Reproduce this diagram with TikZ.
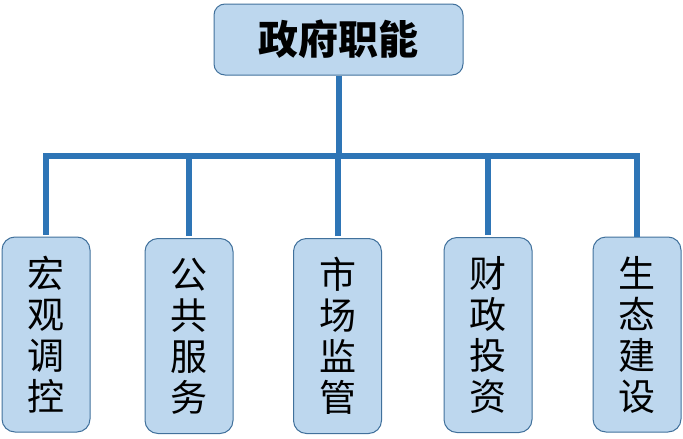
\documentclass[tikz,border=0pt]{standalone}
\usepackage{fontspec}
\setmainfont{Noto Sans CJK SC}
\definecolor{boxfill}{HTML}{BDD7EE}
\definecolor{boxline}{HTML}{41719C}
\definecolor{linkblue}{HTML}{2E75B6}

\begin{document}
\begin{tikzpicture}[x=1pt,y=-1pt,
    headbox/.style={draw=boxline,fill=boxfill,rounded corners=11pt,line width=1pt,
      minimum width=249pt,minimum height=71pt,inner sep=0pt,
      font=\fontsize{40}{44}\selectfont\bfseries},
    taskbox/.style={draw=boxline,fill=boxfill,rounded corners=13pt,line width=1pt,
      minimum width=88pt,minimum height=195pt,inner sep=0pt,align=center,
      font=\fontsize{37}{41}\selectfont},
    link/.style={draw=linkblue,line width=6pt}]
      \useasboundingbox (0,0) rectangle (683,439);

      \node[headbox] (top) at (338.5,39.5) {政府职能};

      \node[taskbox] (hongguan) at (46,334.5) {宏\\观\\调\\控};
      \node[taskbox] (gonggong) at (189,336) {公\\共\\服\\务};
      \node[taskbox] (shichang) at (337.5,336) {市\\场\\监\\管};
      \node[taskbox] (caizheng) at (488,335) {财\\政\\投\\资};
      \node[taskbox] (shengtai) at (637,334.5) {生\\态\\建\\设};
      \coordinate (bus) at (0,156);

      \draw[link] (top.south) -- (top.south |- bus);
      \draw[link,shorten <=2pt] (hongguan.north) -- (hongguan.north |- bus)
        -- (shengtai.north |- bus) -- (shengtai.north);
      \draw[link,shorten <=2pt] (gonggong.north) -- (gonggong.north |- bus);
      \draw[link,shorten <=2pt] (shichang.north) -- (shichang.north |- bus);
      \draw[link,shorten <=2pt] (caizheng.north) -- (caizheng.north |- bus);
    \end{tikzpicture}
\end{document}
